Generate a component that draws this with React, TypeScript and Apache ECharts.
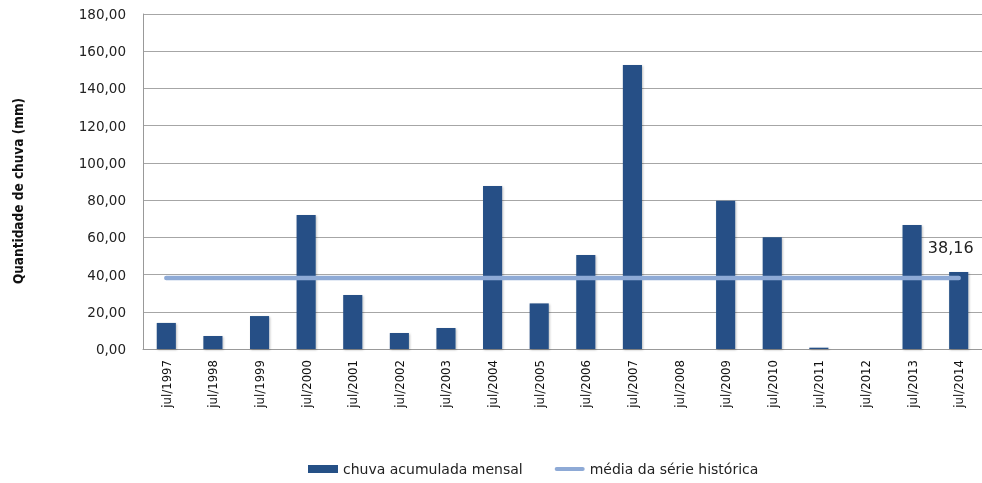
import React, { useEffect, useRef } from "react";
import * as echarts from "echarts";

const categories = [
  "jul/1997", "jul/1998", "jul/1999", "jul/2000", "jul/2001", "jul/2002",
  "jul/2003", "jul/2004", "jul/2005", "jul/2006", "jul/2007", "jul/2008",
  "jul/2009", "jul/2010", "jul/2011", "jul/2012", "jul/2013", "jul/2014",
];
const rainValues = [
  14.0, 7.0, 17.7, 72.0, 29.0, 8.6, 11.3, 87.6, 24.5, 50.5, 152.6, 0,
  79.7, 60.0, 0.7, 0, 66.6, 41.4,
];
const meanValue = 38.16;
const meanValues = categories.map(() => meanValue);
const seriesNames = ["chuva acumulada mensal", "média da série histórica"];
const yAxisName = "Quantidade de chuva (mm)";

const narrow = "'DejaVu Sans Condensed', 'Liberation Sans', sans-serif";

export default function App() {
  const ref = useRef<HTMLDivElement>(null);
  useEffect(() => {
    if (!ref.current) return;
    document.body.style.margin = "0";
    const chart = echarts.init(ref.current, null, { renderer: "svg" });
    chart.setOption({
      animation: false,
      grid: { left: 143, top: 14, right: 0, bottom: 134 },
      graphic: [
        {
          type: "text",
          x: 18,
          y: 191,
          rotation: Math.PI / 2,
          style: {
            text: yAxisName,
            fontFamily: narrow,
            fontWeight: "bold",
            fontSize: 13.5,
            fill: "#111",
            align: "center",
            verticalAlign: "middle",
          },
        },
      ],
      legend: {
        bottom: 2,
        left: 303,
        itemWidth: 30,
        itemHeight: 8,
        itemGap: 32,
        textStyle: { fontFamily: "DejaVu Sans", fontSize: 14, color: "#222" },
        data: [
          { name: seriesNames[0], icon: "rect" },
          { name: seriesNames[1], icon: "path://M2,0 H28 A2,2 0 0 1 28,4 H2 A2,2 0 0 1 2,0 Z" },
        ],
      },
      xAxis: {
        type: "category",
        data: categories,
        axisLine: { lineStyle: { color: "#999", width: 1 } },
        axisTick: { show: false },
        axisLabel: {
          rotate: 90,
          interval: 0,
          fontFamily: narrow,
          fontSize: 13,
          color: "#111",
          margin: 11,
        },
      },
      yAxis: {
        type: "value",
        min: 0,
        max: 180,
        interval: 20,
        axisLine: { show: true, lineStyle: { color: "#999", width: 1 } },
        axisTick: { show: false },
        splitLine: { lineStyle: { color: "#a6a6a6", width: 1 } },
        axisLabel: {
          formatter: (v: number) => v.toFixed(2).replace(".", ","),
          fontFamily: "DejaVu Sans",
          fontSize: 13.5,
          color: "#222",
          margin: 17,
        },
      },
      series: [
        {
          name: seriesNames[0],
          type: "bar",
          data: rainValues,
          barWidth: "41%",
          itemStyle: {
            color: "#255086",
            shadowColor: "rgba(0,0,0,0.25)",
            shadowBlur: 2,
            shadowOffsetX: 1,
            shadowOffsetY: 1,
          },
        },
        {
          name: seriesNames[1],
          type: "line",
          data: meanValues.map((v, i) =>
            i === meanValues.length - 1
              ? {
                  value: v,
                  label: {
                    show: true,
                    position: "top",
                    offset: [-8, -17],
                    formatter: () => meanValue.toFixed(2).replace(".", ","),
                    fontFamily: "DejaVu Sans",
                    fontSize: 16,
                    color: "#222",
                  },
                }
              : v
          ),
          symbol: "circle",
          symbolSize: 1,
          showSymbol: true,
          lineStyle: { color: "#8eaad6", width: 4.5, cap: "round" },
          itemStyle: { color: "#8eaad6" },
          z: 3,
        },
      ],
    });
    return () => chart.dispose();
  }, []);
  return (
    <div
      ref={ref}
      style={{ width: 982, height: 483, position: "fixed", left: 0, top: 0 }}
    />
  );
}
